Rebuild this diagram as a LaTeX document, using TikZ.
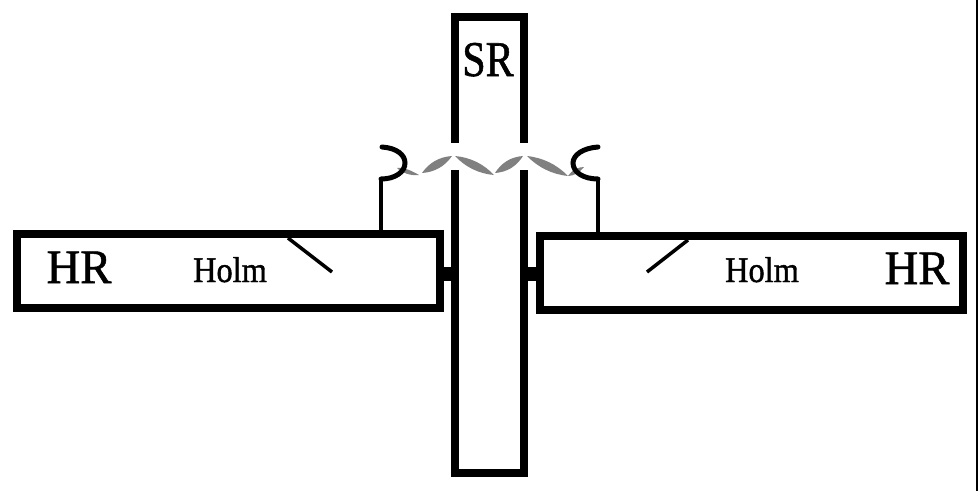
\documentclass[tikz,border=0pt]{standalone}
\usepackage{fontspec}
\setmainfont{Liberation Serif}[BoldFont={Liberation Serif},BoldFeatures={FakeBold=1.2}]
\tikzset{
  x=1pt,y=-1pt,
  barbox/.style={draw=black,line width=8pt,fill=white,outer sep=0pt,inner sep=0pt},
  stub/.style={line width=14pt,black},
  thin line/.style={line width=3.5pt,black},
  hook/.style={line width=5pt,black,line cap=round},
  ribbon/.style={fill=black!50,draw=none},
  lbl/.style={inner sep=0pt,outer sep=0pt,text=black},
}
\begin{document}
\begin{tikzpicture}
\useasboundingbox (0,0) rectangle (978,491);
\fill[white] (0,0) rectangle (978,491);
\fill[black] (976,0) rectangle (978,491);
% bars
\node[barbox,minimum width=69pt,minimum height=456pt] (sr) at (489.5,245) {};
\node[barbox,minimum width=423pt,minimum height=74pt] (hrl) at (228.5,271) {};
\node[barbox,minimum width=423pt,minimum height=74pt] (hrr) at (751,273) {};
% stubs
\coordinate (sl) at (440,274);
\coordinate (sr2) at (539,274);
\draw[stub] (sl) -- (sl -| sr.west);
\draw[stub] (sr2) -- (sr2 -| sr.east);
% gaps in SR
\fill[white] (450,143) rectangle (460,170);
\fill[white] (519,143) rectangle (529,170);
% ribbon
\fill[ribbon] (397,168) .. controls (404,167) and (412,171) .. (419,175) .. controls (411,176) and (402,173) .. cycle;
\fill[ribbon] (422,173) .. controls (429.3,162.5) and (439.3,156.9) .. (452,156) .. controls (444.7,166.5) and (434.7,172.1) .. cycle;
\fill[ribbon] (455,156) .. controls (470.4,157.4) and (483.4,163.8) .. (494,175) .. controls (478.6,173.6) and (465.6,167.2) .. cycle;
\fill[ribbon] (495,173) .. controls (501.6,162.5) and (511,156.9) .. (523,156) .. controls (516.4,166.5) and (507,172.1) .. cycle;
\fill[ribbon] (527,156) .. controls (543.1,157.8) and (556.7,164.4) .. (568,176) .. controls (551.9,174.2) and (538.3,167.6) .. cycle;
\fill[ribbon] (568,176) .. controls (572,170) and (578,167) .. (584,167) .. controls (580,172) and (574,176) .. cycle;
% hooks and stems
\coordinate (hookl) at (381,179);
\coordinate (hookr) at (598,179);
\draw[hook] (382,147) .. controls (397,148) and (405,155) .. (405,163) .. controls (405,172) and (395,179) .. (hookl);
\draw[hook] (598,147) .. controls (583,148) and (573,155) .. (573,163) .. controls (573,172) and (583,179) .. (hookr);
\draw[thin line] (hookl) -- (hookl |- hrl.north);
\draw[thin line] (hookr) -- (hookr |- hrr.north);
% holm lines
\coordinate (hl) at (332,272);
\coordinate (hr2) at (647,272);
\draw[thin line] (288,238) -- (hl);
\draw[thin line] (688,240) -- (hr2);
% labels
\node[lbl,font=\fontsize{48pt}{48pt}\selectfont\bfseries,xscale=.97,anchor=base] (t1) at (79,283) {HR};
\node[lbl,font=\fontsize{48pt}{48pt}\selectfont\bfseries,xscale=.97,anchor=base] (t2) at (917,284) {HR};
\node[lbl,font=\fontsize{50pt}{50pt}\selectfont\bfseries,xscale=.84,anchor=base] (t3) at (488,76) {SR};
\node[lbl,font=\fontsize{36pt}{36pt}\selectfont\bfseries,xscale=.9,anchor=base] (t4) at (230,282) {Holm};
\node[lbl,font=\fontsize{36pt}{36pt}\selectfont\bfseries,xscale=.9,anchor=base] (t5) at (762,282) {Holm};
\end{tikzpicture}
\end{document}
